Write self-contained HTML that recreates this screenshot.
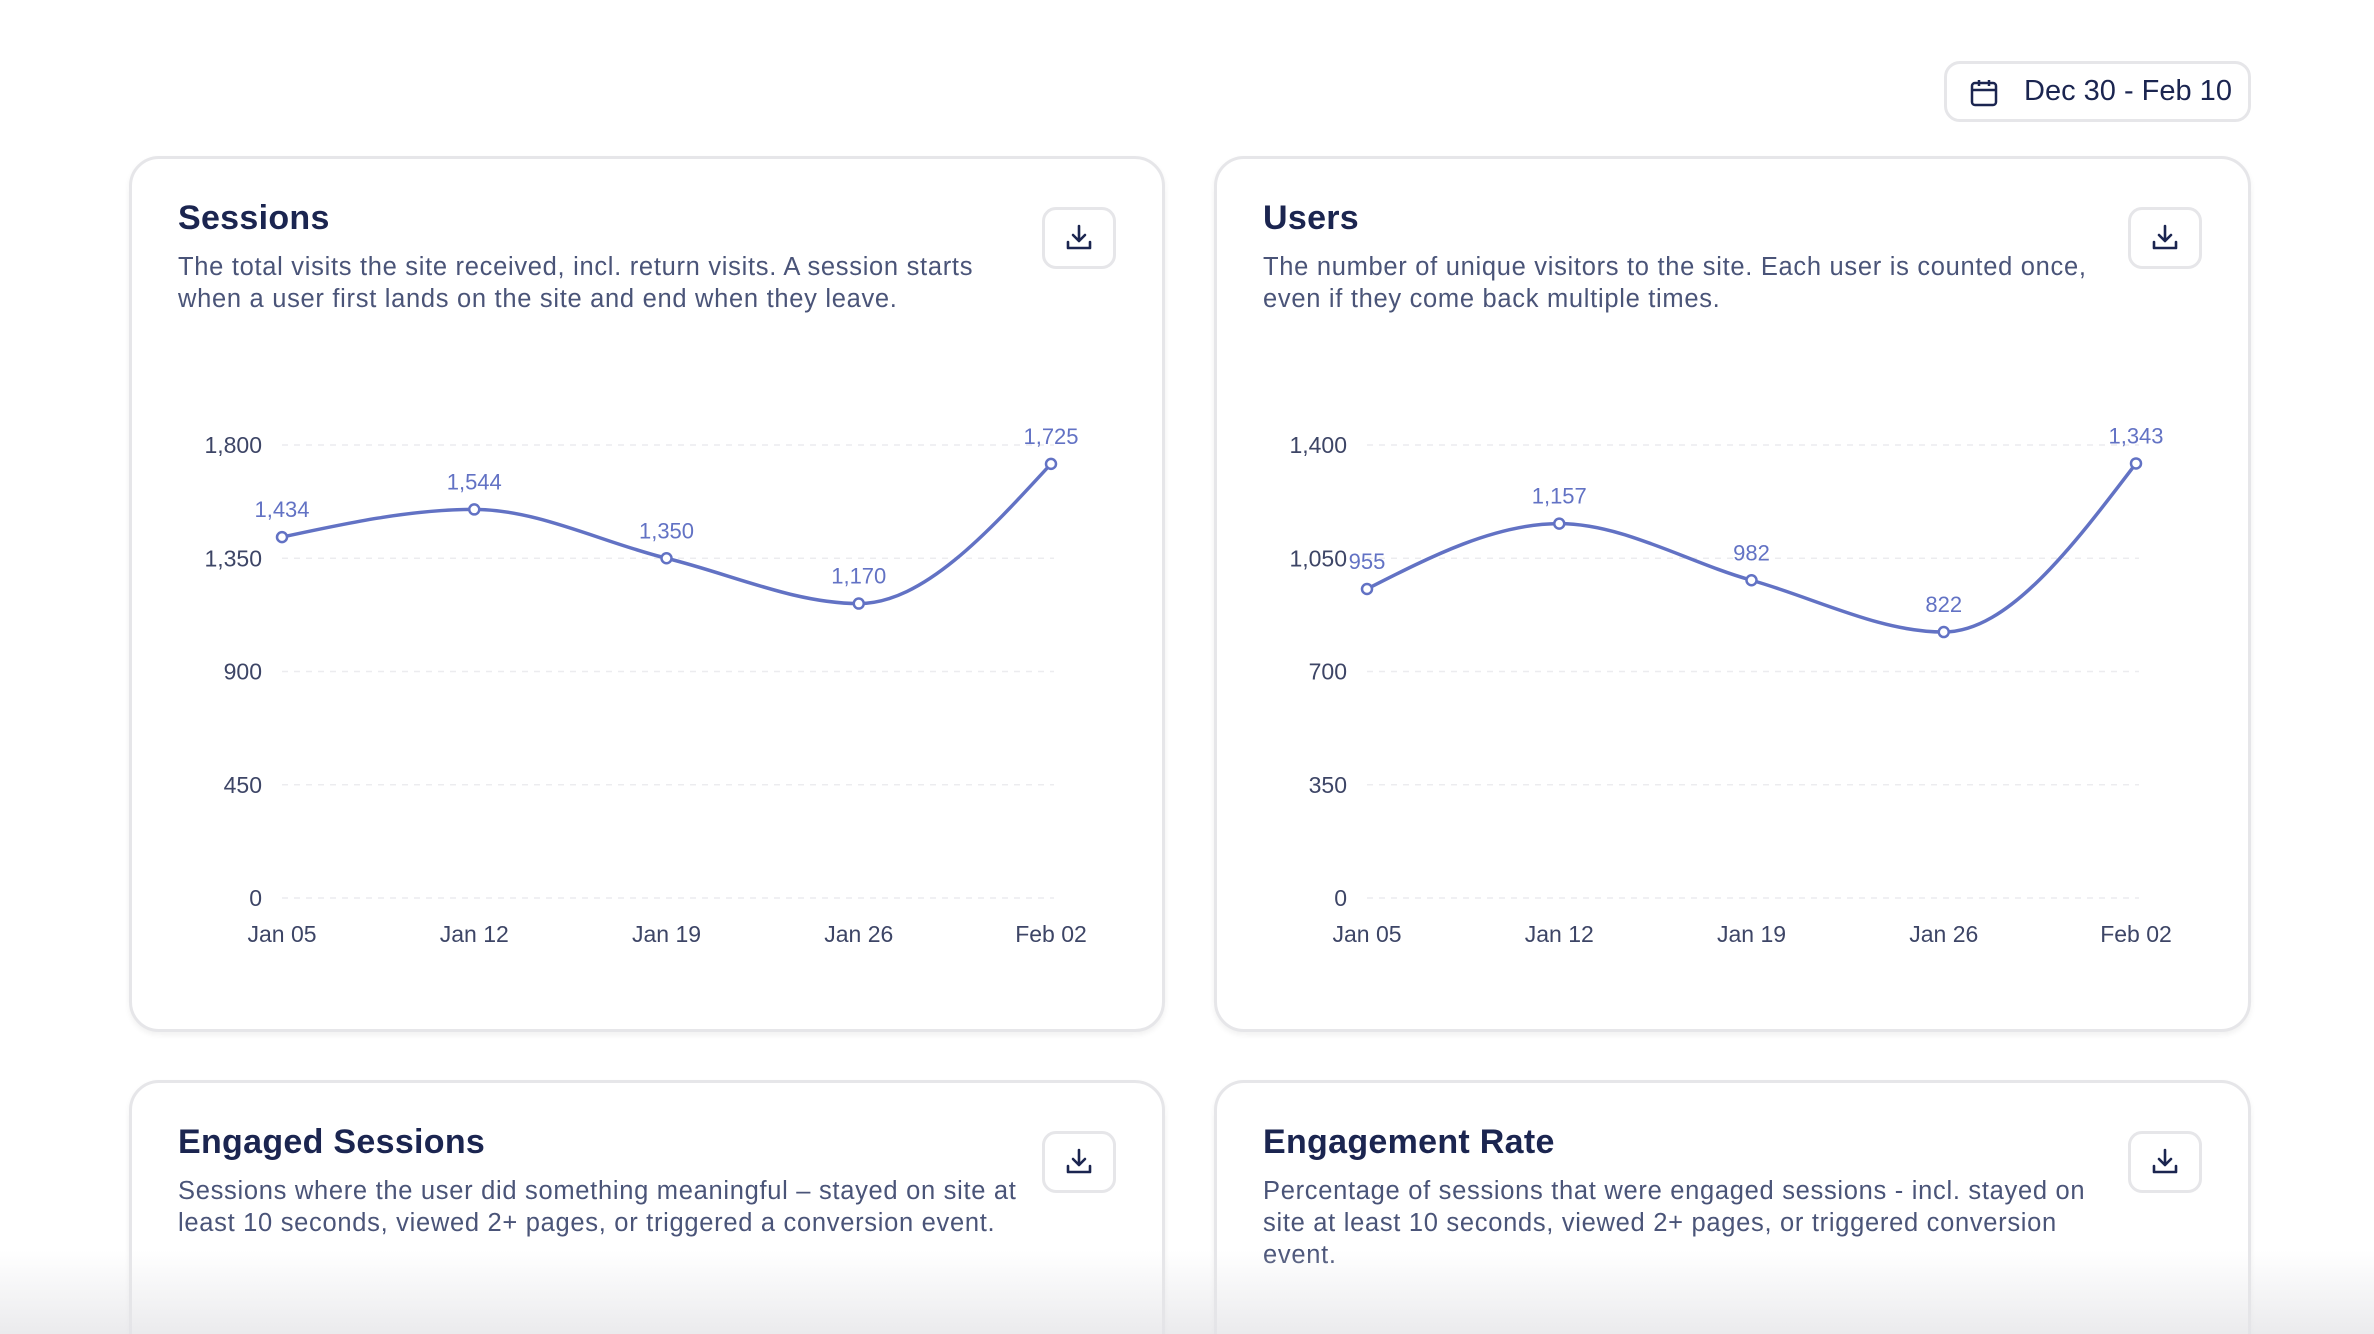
<!DOCTYPE html>
<html><head><meta charset="utf-8">
<style>
html{width:2374px;height:1334px;overflow:hidden}
body{margin:0;width:2374px;height:1334px;background:#fff;font-family:"Liberation Sans",sans-serif;overflow:hidden;position:relative;color:#1b2550}
.card{position:absolute;background:#fff;border:3px solid #e6e6e9;border-radius:30px;box-shadow:0 3px 6px rgba(0,0,0,0.06);box-sizing:border-box}
.title{position:absolute;left:46px;top:40px;font-size:34px;font-weight:bold;color:#1b2550;letter-spacing:0.3px}
.desc{position:absolute;left:46px;top:92px;font-size:25.5px;line-height:32px;color:#4a5478;width:900px;white-space:nowrap;letter-spacing:0.7px}
.dl{position:absolute;right:46px;top:48px;width:74px;height:62px;border:3px solid #e6e6e9;border-radius:14px;box-sizing:border-box;display:flex;align-items:center;justify-content:center}
#date{position:absolute;left:1944px;top:61px;width:307px;height:61px;border:3px solid #e6e6e9;border-radius:16px;box-sizing:border-box}
#date span{position:absolute;left:77px;top:11px;font-size:29px;color:#1b2550}
#fade{position:absolute;left:0;top:1250px;width:2374px;height:84px;background:linear-gradient(to bottom,rgba(235,235,237,0),rgba(228,228,231,0.75));pointer-events:none}
svg text{font-family:"Liberation Sans",sans-serif}
</style></head><body>
<div id="date">
<svg style="position:absolute;left:22px;top:14px" width="30" height="30" viewBox="0 0 30 30"><rect x="3" y="5" width="24" height="22" rx="3" fill="none" stroke="#1b2550" stroke-width="2.5"/><line x1="3" y1="12" x2="27" y2="12" stroke="#1b2550" stroke-width="2.5"/><line x1="10" y1="2" x2="10" y2="8" stroke="#1b2550" stroke-width="2.5"/><line x1="20" y1="2" x2="20" y2="8" stroke="#1b2550" stroke-width="2.5"/></svg>
<span>Dec 30 - Feb 10</span></div>

<div class="card" style="left:129px;top:156px;width:1036px;height:876px">
<div class="title">Sessions</div>
<div class="desc">The total visits the site received, incl. return visits. A session starts<br>when a user first lands on the site and end when they leave.</div>
<div class="dl"><svg width="30" height="30" viewBox="0 0 30 30"><path d="M15 3v15M9 12l6 6 6-6M4 19v6h22v-6" fill="none" stroke="#1b2550" stroke-width="2.6" stroke-linecap="round" stroke-linejoin="round"/></svg></div>
</div>
<div class="card" style="left:1214px;top:156px;width:1037px;height:876px">
<div class="title">Users</div>
<div class="desc">The number of unique visitors to the site. Each user is counted once,<br>even if they come back multiple times.</div>
<div class="dl"><svg width="30" height="30" viewBox="0 0 30 30"><path d="M15 3v15M9 12l6 6 6-6M4 19v6h22v-6" fill="none" stroke="#1b2550" stroke-width="2.6" stroke-linecap="round" stroke-linejoin="round"/></svg></div>
</div>
<div class="card" style="left:129px;top:1080px;width:1036px;height:300px">
<div class="title">Engaged Sessions</div>
<div class="desc">Sessions where the user did something meaningful – stayed on site at<br>least 10 seconds, viewed 2+ pages, or triggered a conversion event.</div>
<div class="dl"><svg width="30" height="30" viewBox="0 0 30 30"><path d="M15 3v15M9 12l6 6 6-6M4 19v6h22v-6" fill="none" stroke="#1b2550" stroke-width="2.6" stroke-linecap="round" stroke-linejoin="round"/></svg></div>
</div>
<div class="card" style="left:1214px;top:1080px;width:1037px;height:300px">
<div class="title">Engagement Rate</div>
<div class="desc">Percentage of sessions that were engaged sessions - incl. stayed on<br>site at least 10 seconds, viewed 2+ pages, or triggered conversion<br>event.</div>
<div class="dl"><svg width="30" height="30" viewBox="0 0 30 30"><path d="M15 3v15M9 12l6 6 6-6M4 19v6h22v-6" fill="none" stroke="#1b2550" stroke-width="2.6" stroke-linecap="round" stroke-linejoin="round"/></svg></div>
</div>
<svg id="charts" width="2374" height="1334" style="position:absolute;left:0;top:0"></svg>
<div id="fade"></div>
<script>
const categories=["Jan 05","Jan 12","Jan 19","Jan 26","Feb 02"];
const sessionsValues=[1434,1544,1350,1170,1725];
const sessionsTicks=[0,450,900,1350,1800];
const usersValues=[955,1157,982,822,1343];
const usersTicks=[0,350,700,1050,1400];
const NS="http://www.w3.org/2000/svg";
const svg=document.getElementById('charts');
function mk(t,a,p){const e=document.createElementNS(NS,t);for(const k in a)e.setAttribute(k,a[k]);(p||svg).appendChild(e);return e;}
function fmt(v){return v.toLocaleString('en-US');}
function monotone(pts){
 const n=pts.length,m=[],d=[];
 for(let i=0;i<n-1;i++)d.push((pts[i+1][1]-pts[i][1])/(pts[i+1][0]-pts[i][0]));
 for(let i=0;i<n;i++){
  if(i==0||i==n-1)m.push(0);
  else m.push(d[i-1]*d[i]<=0?0:(2*d[i-1]*d[i])/(d[i-1]+d[i]));
 }
 m[0]=(3*d[0]-m[1])/2; m[n-1]=(3*d[n-2]-m[n-2])/2;
 let s="M"+pts[0][0]+","+pts[0][1];
 for(let i=0;i<n-1;i++){const h=(pts[i+1][0]-pts[i][0])/3;
  s+=" C"+(pts[i][0]+h)+","+(pts[i][1]+m[i]*h)+" "+(pts[i+1][0]-h)+","+(pts[i+1][1]-m[i+1]*h)+" "+pts[i+1][0]+","+pts[i+1][1];}
 return s;
}
function chart(name,x0,x1,values,ticks){
 const g=mk('g',{});
 
 
 const yTop=445,yBot=898,max=ticks[ticks.length-1];
 const y=v=>yBot-(v/max)*(yBot-yTop);
 const x=i=>x0+i*(x1-x0)/(categories.length-1);
 ticks.forEach(t=>{
  const l=mk('line',{x1:x0,x2:x1+3,y1:y(t),y2:y(t),stroke:'#ececef','stroke-width':1.5,'stroke-dasharray':'6 6'},g);
  
  
  const tx=mk('text',{x:x0-20,y:y(t)+8,'text-anchor':'end','font-size':23,fill:'#3d4566'},g);
  tx.textContent=fmt(t);
  
  
 });
 categories.forEach((c,i)=>{
  const tx=mk('text',{x:x(i),y:942,'text-anchor':'middle','font-size':23,fill:'#3d4566'},g);
  tx.textContent=c;
  
  
 });
 const pts=values.map((v,i)=>[x(i),y(v)]);
 const p=mk('path',{d:monotone(pts),fill:'none',stroke:'#6272c4','stroke-width':3.5},g);
 
 
 values.forEach((v,i)=>{
  const c=mk('circle',{cx:x(i),cy:y(v),r:5,fill:'#fff',stroke:'#6272c4','stroke-width':2.5},g);
  
  
  const t=mk('text',{x:x(i),y:y(v)-20,'text-anchor':'middle','font-size':22,fill:'#6272c4'},g);
  t.textContent=fmt(v);
  
  
 });
}
chart('sessions',282,1051,sessionsValues,sessionsTicks);
chart('users',1367,2136,usersValues,usersTicks);
</script>
</body></html>
